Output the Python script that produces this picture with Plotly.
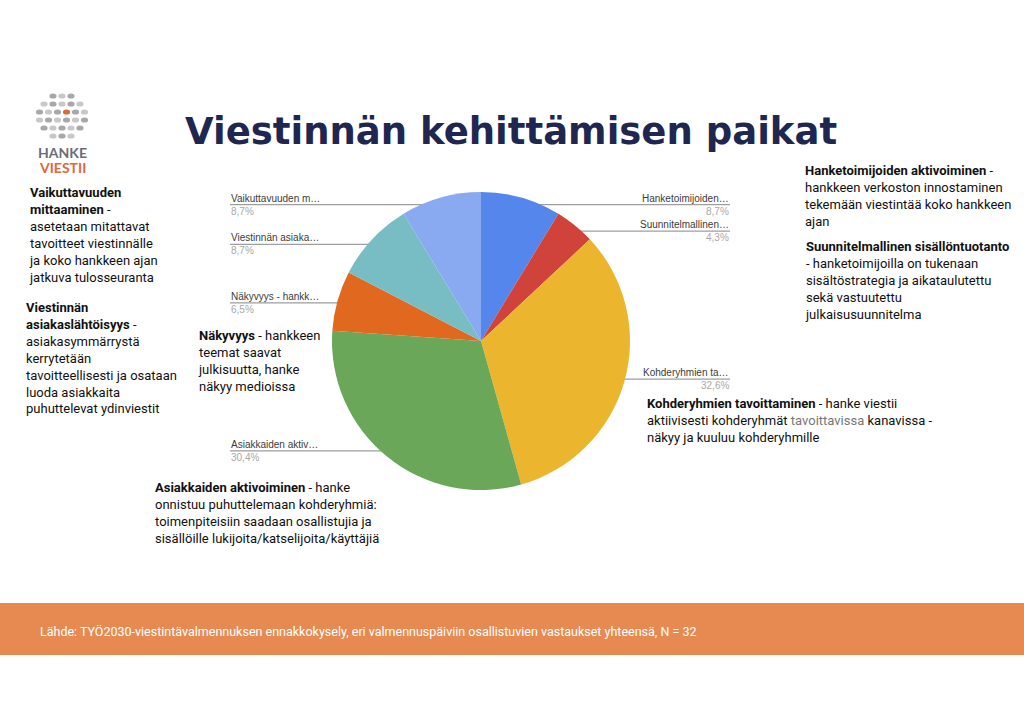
import math
import plotly.graph_objects as go

# pie data (counts out of 46 answers)
labels = ["Hanketoimijoiden aktivoiminen", "Suunnitelmallinen sisällöntuotanto",
          "Kohderyhmien tavoittaminen", "Asiakkaiden aktivoiminen",
          "Näkyvyys - hankkeen teemat", "Viestinnän asiakaslähtöisyys",
          "Vaikuttavuuden mittaaminen"]
short_labels = ["Hanketoimijoiden…", "Suunnitelmallinen…", "Kohderyhmien ta…",
                "Asiakkaiden aktiv…", "Näkyvyys - hankk…", "Viestinnän asiaka…",
                "Vaikuttavuuden m…"]
values = [4, 2, 15, 14, 3, 4, 4]
colors = ["#5586ec", "#d0433a", "#ebb62d", "#6aa758", "#e0691f", "#78bdc3", "#89aaf1"]

W, H = 1024, 724
CX, CY, R = 481, 341, 149   # pie centre / radius in pixels
LEFT_X, RIGHT_X = 230, 730  # label columns

fig = go.Figure()

fig.add_trace(go.Pie(
    labels=labels, values=values, sort=False, direction="clockwise", rotation=0,
    marker=dict(colors=colors, line=dict(width=0)),
    textinfo="none", hoverinfo="label+percent", showlegend=False,
    domain=dict(x=[(CX - R) / W, (CX + R) / W], y=[1 - (CY + R) / H, 1 - (CY - R) / H]),
))

# leader lines + labels, positions from the slice mid angles
total = sum(values)
cum = 0
for v, name in zip(values, short_labels):
    mid = (cum + v / 2) / total * 2 * math.pi
    cum += v
    dx = CX + 0.95 * R * math.sin(mid)
    dy = CY - 0.95 * R * math.cos(mid)
    right = math.sin(mid) > 0
    lx = RIGHT_X if right else LEFT_X
    fig.add_trace(go.Scatter(x=[lx, dx], y=[dy, dy], mode="lines",
                             line=dict(color="#9e9e9e", width=1.2),
                             hoverinfo="skip", showlegend=False))
    fig.add_trace(go.Scatter(x=[dx], y=[dy], mode="markers",
                             marker=dict(color="#8a8a8a", size=4),
                             hoverinfo="skip", showlegend=False))
    pct = f"{v / total * 100:.1f}%".replace(".", ",")
    anchor = "right" if right else "left"
    # y axis is reversed: smaller y = higher on the page
    fig.add_annotation(x=lx, y=dy, text=name, showarrow=False, xanchor=anchor,
                       yanchor="bottom", borderpad=0,
                       font=dict(family="Liberation Sans", size=10, color="#3c3c3c"))
    fig.add_annotation(x=lx, y=dy, text=pct, showarrow=False, xanchor=anchor,
                       yanchor="top", borderpad=0,
                       font=dict(family="Liberation Sans", size=10, color="#a8a8a8"))

# title
fig.add_annotation(x=511, y=131, text="Viestinnän kehittämisen paikat", showarrow=False,
                   font=dict(family="DejaVu Sans", size=37, color="#1f2750", weight=700))

# logo
for row, (ry, n) in enumerate([(96, 3), (104, 5), (112, 6), (120, 6), (128, 5), (136, 3)]):
    for i in range(n):
        ex = 62 + (i - (n - 1) / 2) * 9
        col = "#e0693a" if (row == 2 and i == 3) else ("#c8c8c8" if (i + row) % 2 else "#a8a8a8")
        fig.add_shape(type="circle", xref="x", yref="y", x0=ex - 3.6, x1=ex + 3.6,
                      y0=ry - 2.6, y1=ry + 2.6, fillcolor=col, line=dict(width=0))
fig.add_annotation(x=62, y=152, text="HANKE", showarrow=False,
                   font=dict(family="Lato", size=14, color="#6a6d78", weight=700))
fig.add_annotation(x=62, y=167, text="VIESTII", showarrow=False,
                   font=dict(family="Lato", size=14, color="#e0693a", weight=700))

# description texts
body = dict(family="Roboto", size=13, color="#111111")
notes = [
    (27, 183, "<b>Vaikuttavuuden<br>mittaaminen</b> -<br>asetetaan mitattavat<br>tavoitteet viestinnälle"
              "<br>ja koko hankkeen ajan<br>jatkuva tulosseuranta"),
    (24, 298, "<b>Viestinnän<br>asiakaslähtöisyys</b> -<br>asiakasymmärrystä<br>kerrytetään"
              "<br>tavoitteellisesti ja osataan<br>luoda asiakkaita<br>puhuttelevat ydinviestit"),
    (196, 326, "<b>Näkyvyys</b> - hankkeen<br>teemat saavat<br>julkisuutta, hanke<br>näkyy medioissa"),
    (153, 478, "<b>Asiakkaiden aktivoiminen</b> - hanke<br>onnistuu puhuttelemaan kohderyhmiä:"
               "<br>toimenpiteisiin saadaan osallistujia ja<br>sisällöille lukijoita/katselijoita/käyttäjiä"),
    (645, 394, "<b>Kohderyhmien tavoittaminen</b> - hanke viestii<br>aktiivisesti kohderyhmät "
               "<span style='color:#777'>tavoittavissa</span> kanavissa -<br>näkyy ja kuuluu kohderyhmille"),
    (803, 161, "<b>Hanketoimijoiden aktivoiminen</b> -<br>hankkeen verkoston innostaminen"
               "<br>tekemään viestintää koko hankkeen<br>ajan"),
    (803, 237, "<b>Suunnitelmallinen sisällöntuotanto</b><br>- hanketoimijoilla on tukenaan"
               "<br>sisältöstrategia ja aikataulutettu<br>sekä vastuutettu<br>julkaisusuunnitelma"),
]
for nx, ny, txt in notes:
    fig.add_annotation(x=nx, y=ny, text=txt, showarrow=False, xanchor="left", yanchor="top",
                       align="left", font=body)

# source bar
fig.add_shape(type="rect", xref="x", yref="y", x0=0, x1=W, y0=603, y1=655,
              fillcolor="#e68a52", line=dict(width=0), layer="below")
fig.add_annotation(x=38, y=631, text="Lähde: TYÖ2030-viestintävalmennuksen ennakkokysely, eri "
                   "valmennuspäiviin osallistuvien vastaukset yhteensä, N = 32",
                   showarrow=False, xanchor="left",
                   font=dict(family="Roboto", size=12.5, color="white"))

fig.update_xaxes(range=[0, W], visible=False, fixedrange=True)
fig.update_yaxes(range=[H, 0], visible=False, fixedrange=True)
fig.update_layout(width=W, height=H, margin=dict(l=0, r=0, t=0, b=0),
                  paper_bgcolor="white", plot_bgcolor="rgba(0,0,0,0)")

# page has a default 8px body margin; drop it so the figure fills the window
fig.write_html("out.html", config={"displayModeBar": False},
               post_script="document.body.style.margin='0';")
